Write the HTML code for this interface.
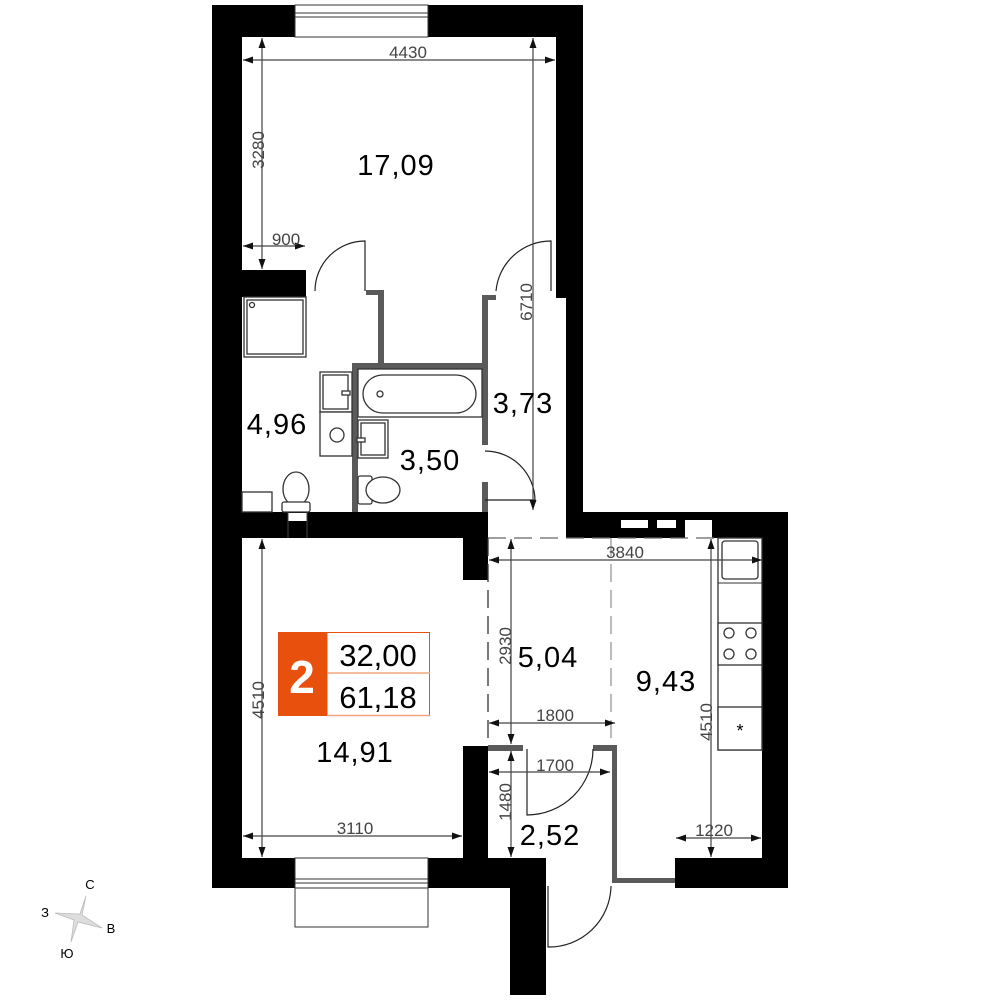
<!DOCTYPE html>
<html><head><meta charset="utf-8"><style>
html,body{margin:0;padding:0;background:#fff;width:1000px;height:1000px;overflow:hidden}
svg{display:block}
text{font-family:"Liberation Sans",sans-serif}
.d{fill:#444;font-size:17px;text-anchor:middle}
.b{fill:#000;font-size:29px;text-anchor:middle;letter-spacing:1px}
.dl{stroke:#444;stroke-width:1.2;fill:none}
.f{fill:#fff;stroke:#333;stroke-width:1.3}
.g{fill:#5a5a5a}
</style></head><body>
<svg width="1000" height="1000" viewBox="0 0 1000 1000" xmlns="http://www.w3.org/2000/svg">
<defs>
<marker id="a" viewBox="0 0 10 10" refX="10" refY="5" markerWidth="10" markerHeight="10" markerUnits="userSpaceOnUse" orient="auto-start-reverse"><path d="M0,1.5 L10,5 L0,8.5z" fill="#111"/></marker>
</defs>
<g fill="#000">
<rect x="212" y="5" width="30" height="883"/>
<rect x="212" y="5" width="371" height="32"/>
<rect x="556" y="5" width="27" height="293"/>
<rect x="566" y="298" width="17" height="214"/>
<rect x="242" y="512" width="246" height="26"/>
<rect x="463" y="512" width="25" height="68"/>
<rect x="242" y="270" width="64" height="27"/>
<rect x="566" y="512" width="222" height="26"/>
<rect x="762" y="512" width="26" height="376"/>
<rect x="675" y="858" width="113" height="30"/>
<rect x="463" y="746" width="25" height="112"/>
<rect x="212" y="858" width="334" height="30"/>
<rect x="510" y="883" width="36" height="112"/>
</g>
<rect x="295" y="5" width="133" height="32" fill="#fff" stroke="#333" stroke-width="1"/>
<line x1="295" y1="13" x2="428" y2="13" stroke="#333"/><line x1="295" y1="17" x2="428" y2="17" stroke="#333"/>
<rect x="295" y="858" width="133" height="30" fill="#fff" stroke="#333" stroke-width="1"/>
<line x1="295" y1="879" x2="428" y2="879" stroke="#333"/><line x1="295" y1="883" x2="428" y2="883" stroke="#333"/>
<rect x="295" y="888" width="133" height="39" fill="#fff" stroke="#333" stroke-width="1"/>
<rect x="621" y="520" width="27" height="8" fill="#fff"/><rect x="657" y="520" width="19" height="8" fill="#fff"/>
<rect x="685" y="520" width="27" height="18" fill="#fff"/>
<rect x="288" y="513" width="19" height="8" fill="#fff"/><line x1="288" y1="512" x2="288" y2="538" stroke="#444"/><line x1="307" y1="512" x2="307" y2="538" stroke="#444"/>
<g class="g">
<rect x="378" y="290" width="6" height="75"/>
<rect x="352" y="363" width="136" height="6"/>
<rect x="352" y="363" width="6" height="149"/>
<rect x="482" y="295" width="6" height="150"/>
<rect x="482" y="482" width="6" height="30"/>
<rect x="482" y="295" width="14" height="5"/>
<rect x="366" y="290" width="18" height="5"/>
<rect x="488" y="745" width="35" height="6"/>
<rect x="593" y="745" width="24" height="6"/>
<rect x="612" y="745" width="5" height="138"/>
<rect x="612" y="878" width="63" height="5"/>
</g>
<g fill="none" stroke="#222" stroke-width="1.2">
<path d="M315,291 A50,50 0 0 1 365,241 L365,291"/>
<path d="M496,291 A55,55 0 0 1 551,241 L551,291"/>
<path d="M485,451 A50,50 0 0 1 535,500 L485,500"/>
<path d="M527,749 L527,815 A66,66 0 0 0 593,749"/>
<path d="M548,886 L548,947 A62,62 0 0 0 611,886"/>
</g>
<g stroke="#333" stroke-width="1.3" stroke-dasharray="18,8" fill="none">
<line x1="488" y1="538" x2="488" y2="745"/>
<line x1="611" y1="538" x2="611" y2="745" stroke="#999"/>
<line x1="488" y1="538" x2="760" y2="538" stroke="#666"/>
</g>
<rect class="f" x="244" y="297" width="62" height="60"/><rect class="f" x="247" y="300" width="56" height="54"/><circle cx="252" cy="305" r="2.5" class="f"/>
<rect class="f" x="320" y="372" width="32" height="40"/><rect class="f" x="323" y="375" width="25" height="34"/><rect class="f" x="342" y="391" width="8" height="4"/>
<rect class="f" x="320" y="412" width="32" height="44"/><circle class="f" cx="337" cy="435" r="7"/>
<rect class="f" x="358" y="369" width="124" height="48"/><rect class="f" x="363" y="375" width="113" height="38" rx="20"/><circle class="f" cx="380" cy="394" r="3"/>
<rect class="f" x="358" y="420" width="30" height="38"/><rect class="f" x="361" y="423" width="24" height="32"/><rect class="f" x="357" y="438" width="8" height="4"/>
<rect class="f" x="358" y="476" width="14" height="28" rx="2"/><ellipse class="f" cx="383" cy="490" rx="17" ry="13"/>
<ellipse class="f" cx="296" cy="489" rx="13" ry="17"/><rect class="f" x="282" y="502" width="28" height="10" rx="2"/>
<rect class="f" x="242" y="492" width="30" height="20"/>
<rect class="f" x="718" y="538" width="44" height="212"/>
<rect class="f" x="722" y="541" width="36" height="38" rx="3"/>
<line x1="718" y1="583" x2="762" y2="583" stroke="#333"/>
<rect class="f" x="718" y="623" width="44" height="42"/>
<circle class="f" cx="729" cy="633" r="5"/><circle class="f" cx="751" cy="633" r="5"/><circle class="f" cx="729" cy="654" r="5"/><circle class="f" cx="751" cy="654" r="5"/>
<rect class="f" x="718" y="707" width="44" height="43"/>
<text x="740" y="737" text-anchor="middle" font-size="18" fill="#000">*</text>
<g class="dl" marker-start="url(#a)" marker-end="url(#a)">
<line x1="243" y1="60" x2="555" y2="60"/>
<line x1="262" y1="38" x2="262" y2="269"/>
<line x1="243" y1="246" x2="305" y2="246"/>
<line x1="533" y1="38" x2="533" y2="510"/>
<line x1="489" y1="560" x2="762" y2="560"/>
<line x1="511" y1="539" x2="511" y2="744"/>
<line x1="489" y1="723" x2="615" y2="723"/>
<line x1="489" y1="772" x2="610" y2="772"/>
<line x1="511" y1="751" x2="511" y2="857"/>
<line x1="262" y1="539" x2="262" y2="857"/>
<line x1="243" y1="836" x2="462" y2="836"/>
<line x1="711" y1="539" x2="711" y2="857"/>
<line x1="676" y1="838" x2="761" y2="838"/>
</g>
<g class="d">
<text x="408" y="58">4430</text>
<text x="286" y="245">900</text>
<text x="625" y="558">3840</text>
<text x="555" y="721">1800</text>
<text x="555" y="771">1700</text>
<text x="355" y="834">3110</text>
<text x="714" y="836">1220</text>
<text transform="translate(264,150) rotate(-90)">3280</text>
<text transform="translate(532,302) rotate(-90)">6710</text>
<text transform="translate(511,646) rotate(-90)">2930</text>
<text transform="translate(511,802) rotate(-90)">1480</text>
<text transform="translate(264,700) rotate(-90)">4510</text>
<text transform="translate(712,722) rotate(-90)">4510</text>
</g>
<g class="b">
<text x="396" y="175">17,09</text>
<text x="277" y="434">4,96</text>
<text x="430" y="470">3,50</text>
<text x="523" y="413">3,73</text>
<text x="548" y="667">5,04</text>
<text x="666" y="691">9,43</text>
<text x="355" y="762">14,91</text>
<text x="550" y="845">2,52</text>
</g>
<rect x="278" y="632" width="49" height="84" fill="#e8500e"/>
<text x="302" y="693" text-anchor="middle" font-size="46" font-weight="bold" fill="#fff">2</text>
<rect x="327" y="632.5" width="102.5" height="83" fill="#fff" stroke="#e8500e" stroke-width="1"/>
<line x1="327" y1="673" x2="430" y2="673" stroke="#f4a57c" stroke-width="1.5"/>
<line x1="327" y1="715.5" x2="430" y2="715.5" stroke="#f4a57c" stroke-width="1.5"/>
<text x="378" y="666" text-anchor="middle" font-size="31" fill="#000">32,00</text>
<text x="378" y="708" text-anchor="middle" font-size="31" fill="#000">61,18</text>
<path d="M86,896 L82,915 L102,928 L78,922 L71,942 L74,920 L55,913 L80,914 Z" fill="#ddd" stroke="#bbb" stroke-width="0.8"/>
<g font-size="13" fill="#000" text-anchor="middle">
<text x="90" y="889">С</text><text x="45" y="917">З</text><text x="111" y="933">В</text><text x="67" y="958">Ю</text>
</g>
</svg>
</body></html>
